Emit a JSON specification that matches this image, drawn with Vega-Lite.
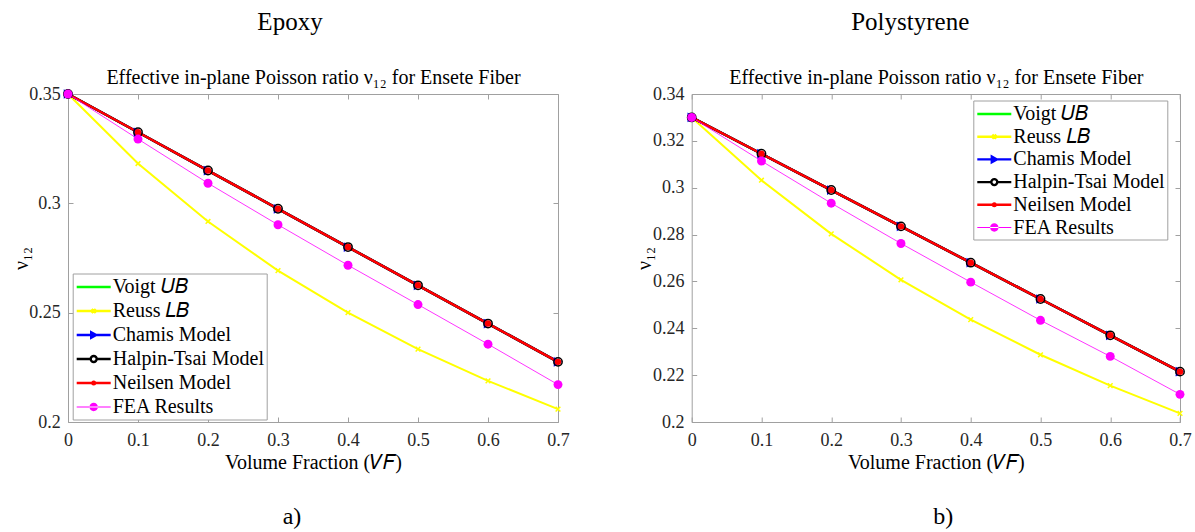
{
  "$schema": "https://vega.github.io/schema/vega-lite/v6.json",
  "background": "white",
  "padding": {"left": 10, "top": 9, "right": 0, "bottom": 0},
  "autosize": {"type": "pad"},
  "bounds": "flush",
  "spacing": 133.7,
  "datasets": {
    "epoxy": [
      {"model": "Voigt 𝑈𝐵", "vf": 0, "nu": 0.35}, {"model": "Voigt 𝑈𝐵", "vf": 0.1, "nu": 0.3325}, {"model": "Voigt 𝑈𝐵", "vf": 0.2, "nu": 0.315}, {"model": "Voigt 𝑈𝐵", "vf": 0.3, "nu": 0.2975}, {"model": "Voigt 𝑈𝐵", "vf": 0.4, "nu": 0.28}, {"model": "Voigt 𝑈𝐵", "vf": 0.5, "nu": 0.2625}, {"model": "Voigt 𝑈𝐵", "vf": 0.6, "nu": 0.245}, {"model": "Voigt 𝑈𝐵", "vf": 0.7, "nu": 0.2275},
      {"model": "Reuss 𝐿𝐵", "vf": 0, "nu": 0.35}, {"model": "Reuss 𝐿𝐵", "vf": 0.1, "nu": 0.3182}, {"model": "Reuss 𝐿𝐵", "vf": 0.2, "nu": 0.2917}, {"model": "Reuss 𝐿𝐵", "vf": 0.3, "nu": 0.2692}, {"model": "Reuss 𝐿𝐵", "vf": 0.4, "nu": 0.25}, {"model": "Reuss 𝐿𝐵", "vf": 0.5, "nu": 0.2333}, {"model": "Reuss 𝐿𝐵", "vf": 0.6, "nu": 0.2188}, {"model": "Reuss 𝐿𝐵", "vf": 0.7, "nu": 0.2059},
      {"model": "Chamis Model", "vf": 0, "nu": 0.35}, {"model": "Chamis Model", "vf": 0.1, "nu": 0.3325}, {"model": "Chamis Model", "vf": 0.2, "nu": 0.315}, {"model": "Chamis Model", "vf": 0.3, "nu": 0.2975}, {"model": "Chamis Model", "vf": 0.4, "nu": 0.28}, {"model": "Chamis Model", "vf": 0.5, "nu": 0.2625}, {"model": "Chamis Model", "vf": 0.6, "nu": 0.245}, {"model": "Chamis Model", "vf": 0.7, "nu": 0.2275},
      {"model": "Halpin-Tsai Model", "vf": 0, "nu": 0.35}, {"model": "Halpin-Tsai Model", "vf": 0.1, "nu": 0.3325}, {"model": "Halpin-Tsai Model", "vf": 0.2, "nu": 0.315}, {"model": "Halpin-Tsai Model", "vf": 0.3, "nu": 0.2975}, {"model": "Halpin-Tsai Model", "vf": 0.4, "nu": 0.28}, {"model": "Halpin-Tsai Model", "vf": 0.5, "nu": 0.2625}, {"model": "Halpin-Tsai Model", "vf": 0.6, "nu": 0.245}, {"model": "Halpin-Tsai Model", "vf": 0.7, "nu": 0.2275},
      {"model": "Neilsen Model", "vf": 0, "nu": 0.35}, {"model": "Neilsen Model", "vf": 0.1, "nu": 0.3325}, {"model": "Neilsen Model", "vf": 0.2, "nu": 0.315}, {"model": "Neilsen Model", "vf": 0.3, "nu": 0.2975}, {"model": "Neilsen Model", "vf": 0.4, "nu": 0.28}, {"model": "Neilsen Model", "vf": 0.5, "nu": 0.2625}, {"model": "Neilsen Model", "vf": 0.6, "nu": 0.245}, {"model": "Neilsen Model", "vf": 0.7, "nu": 0.2275},
      {"model": "FEA Results", "vf": 0, "nu": 0.35}, {"model": "FEA Results", "vf": 0.1, "nu": 0.3294}, {"model": "FEA Results", "vf": 0.2, "nu": 0.3092}, {"model": "FEA Results", "vf": 0.3, "nu": 0.2902}, {"model": "FEA Results", "vf": 0.4, "nu": 0.2717}, {"model": "FEA Results", "vf": 0.5, "nu": 0.2537}, {"model": "FEA Results", "vf": 0.6, "nu": 0.2356}, {"model": "FEA Results", "vf": 0.7, "nu": 0.2171}
    ],
    "poly": [
      {"model": "Voigt 𝑈𝐵", "vf": 0, "nu": 0.33}, {"model": "Voigt 𝑈𝐵", "vf": 0.1, "nu": 0.3145}, {"model": "Voigt 𝑈𝐵", "vf": 0.2, "nu": 0.299}, {"model": "Voigt 𝑈𝐵", "vf": 0.3, "nu": 0.2835}, {"model": "Voigt 𝑈𝐵", "vf": 0.4, "nu": 0.268}, {"model": "Voigt 𝑈𝐵", "vf": 0.5, "nu": 0.2525}, {"model": "Voigt 𝑈𝐵", "vf": 0.6, "nu": 0.237}, {"model": "Voigt 𝑈𝐵", "vf": 0.7, "nu": 0.2215},
      {"model": "Reuss 𝐿𝐵", "vf": 0, "nu": 0.33}, {"model": "Reuss 𝐿𝐵", "vf": 0.1, "nu": 0.3032}, {"model": "Reuss 𝐿𝐵", "vf": 0.2, "nu": 0.2803}, {"model": "Reuss 𝐿𝐵", "vf": 0.3, "nu": 0.2607}, {"model": "Reuss 𝐿𝐵", "vf": 0.4, "nu": 0.2437}, {"model": "Reuss 𝐿𝐵", "vf": 0.5, "nu": 0.2287}, {"model": "Reuss 𝐿𝐵", "vf": 0.6, "nu": 0.2155}, {"model": "Reuss 𝐿𝐵", "vf": 0.7, "nu": 0.2037},
      {"model": "Chamis Model", "vf": 0, "nu": 0.33}, {"model": "Chamis Model", "vf": 0.1, "nu": 0.3145}, {"model": "Chamis Model", "vf": 0.2, "nu": 0.299}, {"model": "Chamis Model", "vf": 0.3, "nu": 0.2835}, {"model": "Chamis Model", "vf": 0.4, "nu": 0.268}, {"model": "Chamis Model", "vf": 0.5, "nu": 0.2525}, {"model": "Chamis Model", "vf": 0.6, "nu": 0.237}, {"model": "Chamis Model", "vf": 0.7, "nu": 0.2215},
      {"model": "Halpin-Tsai Model", "vf": 0, "nu": 0.33}, {"model": "Halpin-Tsai Model", "vf": 0.1, "nu": 0.3145}, {"model": "Halpin-Tsai Model", "vf": 0.2, "nu": 0.299}, {"model": "Halpin-Tsai Model", "vf": 0.3, "nu": 0.2835}, {"model": "Halpin-Tsai Model", "vf": 0.4, "nu": 0.268}, {"model": "Halpin-Tsai Model", "vf": 0.5, "nu": 0.2525}, {"model": "Halpin-Tsai Model", "vf": 0.6, "nu": 0.237}, {"model": "Halpin-Tsai Model", "vf": 0.7, "nu": 0.2215},
      {"model": "Neilsen Model", "vf": 0, "nu": 0.33}, {"model": "Neilsen Model", "vf": 0.1, "nu": 0.3145}, {"model": "Neilsen Model", "vf": 0.2, "nu": 0.299}, {"model": "Neilsen Model", "vf": 0.3, "nu": 0.2835}, {"model": "Neilsen Model", "vf": 0.4, "nu": 0.268}, {"model": "Neilsen Model", "vf": 0.5, "nu": 0.2525}, {"model": "Neilsen Model", "vf": 0.6, "nu": 0.237}, {"model": "Neilsen Model", "vf": 0.7, "nu": 0.2215},
      {"model": "FEA Results", "vf": 0, "nu": 0.33}, {"model": "FEA Results", "vf": 0.1, "nu": 0.3114}, {"model": "FEA Results", "vf": 0.2, "nu": 0.2934}, {"model": "FEA Results", "vf": 0.3, "nu": 0.2762}, {"model": "FEA Results", "vf": 0.4, "nu": 0.2597}, {"model": "FEA Results", "vf": 0.5, "nu": 0.2434}, {"model": "FEA Results", "vf": 0.6, "nu": 0.228}, {"model": "FEA Results", "vf": 0.7, "nu": 0.2118}
    ]
  },
  "resolve": {"scale": {"color": "independent", "x": "independent", "y": "independent"}, "legend": {"color": "independent"}},
  "hconcat": [
    {
      "width": 490, "height": 328,
      "data": {"name": "epoxy"},
      "resolve": {"axis": {"x": "independent", "y": "independent"}},
      "layer": [
        {
          "transform": [{"filter": {"field": "model", "oneOf": ["Reuss 𝐿𝐵"]}}],
          "mark": {"type": "line", "strokeWidth": 2},
          "encoding": {
            "x": {"field": "vf", "type": "quantitative", "scale": {"domain": [0, 0.7], "nice": false, "zero": false},
                  "axis": {"orient": "bottom", "values": [0, 0.1, 0.2, 0.3, 0.4, 0.5, 0.6, 0.7], "format": "~g", "labelFontSize": 18, "labelBaseline": "alphabetic", "labelPadding": 28.5, "title": "Volume Fraction (𝑉𝐹)", "titleFontSize": 20, "titleY": 46.8, "titleBaseline": "alphabetic"}},
            "y": {"field": "nu", "type": "quantitative", "scale": {"domain": [0.2, 0.35], "nice": false, "zero": false},
                  "axis": {"orient": "left", "values": [0.2, 0.25, 0.3, 0.35], "format": "~g", "labelFontSize": 18, "labelPadding": 12.7, "title": "ν₁₂", "titleFontSize": 20, "titleX": -47, "titleBaseline": "middle"}},
            "color": {"field": "model", "type": "nominal",
                      "scale": {"domain": ["Voigt 𝑈𝐵", "Reuss 𝐿𝐵", "Chamis Model", "Halpin-Tsai Model", "Neilsen Model", "FEA Results"], "range": ["#00ff00", "#ffff00", "#0000ff", "#000000", "#ff0000", "#ff00ff"]},
                      "legend": {"orient": "none", "legendX": 4.7, "legendY": 179.5, "rowPadding": 2,
                        "encode": {"symbols": {"update": {
                          "shape": {"signal": "['M-0.95,0L2.45,0', 'M-0.95,0L2.45,0M0.55,-0.2L0.95,0.2M0.55,0.2L0.95,-0.2', 'M-0.95,0L2.45,0M0.5,-0.28L1.0,0L0.5,0.28Z', 'M-0.95,0L0.45,0M1.05,0L2.45,0M0.45,0A0.3,0.3,0,1,0,1.05,0A0.3,0.3,0,1,0,0.45,0', 'M-0.95,0L2.45,0M0.62,0A0.13,0.13,0,1,0,0.88,0A0.13,0.13,0,1,0,0.62,0', 'M-0.95,-0.04L2.45,-0.04L2.45,0.04L-0.95,0.04ZM0.33,0A0.42,0.42,0,1,0,1.17,0A0.42,0.42,0,1,0,0.33,0'][datum.index]"},
                          "fill": {"signal": "['transparent', 'transparent', '#0000ff', 'white', '#ff0000', '#ff00ff'][datum.index]"},
                          "stroke": {"signal": "['#00ff00', '#ffff00', '#0000ff', '#000000', '#ff0000', 'transparent'][datum.index]"},
                          "strokeOpacity": {"signal": "[1, 1, 1, 1, 1, 0][datum.index]"},
                          "fillOpacity": {"value": 1},
                          "strokeWidth": {"value": 2.4},
                          "size": {"value": 400},
                          "opacity": {"value": 1}
                        }}}}}
          }
        },
        {
          "transform": [{"filter": {"field": "model", "oneOf": ["Voigt 𝑈𝐵", "Chamis Model", "Halpin-Tsai Model", "Neilsen Model"]}}],
          "mark": {"type": "line", "strokeWidth": 2.5},
          "encoding": {
            "x": {"field": "vf", "type": "quantitative", "axis": {"orient": "top", "values": [0, 0.1, 0.2, 0.3, 0.4, 0.5, 0.6, 0.7], "labels": false, "title": "Effective in-plane Poisson ratio ν₁₂ for Ensete Fiber", "titleFontSize": 20, "titleY": -10.2, "titleBaseline": "alphabetic"}},
            "y": {"field": "nu", "type": "quantitative", "axis": {"orient": "right", "values": [0.2, 0.25, 0.3, 0.35], "labels": false, "title": null}},
            "color": {"field": "model", "type": "nominal"}
          }
        },
        {
          "transform": [{"filter": {"field": "model", "oneOf": ["FEA Results"]}}],
          "mark": {"type": "line", "strokeWidth": 0.8},
          "encoding": {
            "x": {"field": "vf", "type": "quantitative", "axis": {"orient": "top", "ticks": false, "labels": false, "title": "Epoxy", "titleFontSize": 25, "titleX": 221.5, "titleY": -64.2, "titleBaseline": "alphabetic"}},
            "y": {"field": "nu", "type": "quantitative", "axis": null},
            "color": {"field": "model", "type": "nominal"}
          }
        },
        {
          "transform": [{"filter": {"field": "model", "oneOf": ["Chamis Model"]}}],
          "mark": {"type": "point", "shape": "triangle-right", "filled": true, "color": "#0000ff", "size": 95, "opacity": 1},
          "encoding": {
            "x": {"field": "vf", "type": "quantitative", "axis": {"orient": "bottom", "ticks": false, "labels": false, "title": "a)", "titleFontSize": 24, "titleX": 223.5, "titleY": 101.5, "titleBaseline": "alphabetic"}},
            "y": {"field": "nu", "type": "quantitative", "axis": null}
          }
        },
        {
          "transform": [{"filter": {"field": "model", "oneOf": ["Halpin-Tsai Model"]}}],
          "mark": {"type": "point", "shape": "circle", "filled": false, "color": "#000000", "strokeWidth": 1.5, "size": 70, "opacity": 1},
          "encoding": {"x": {"field": "vf", "type": "quantitative", "axis": null}, "y": {"field": "nu", "type": "quantitative", "axis": null}}
        },
        {
          "transform": [{"filter": {"field": "model", "oneOf": ["Neilsen Model"]}}],
          "mark": {"type": "point", "shape": "circle", "filled": true, "color": "#ff0000", "size": 42, "opacity": 1},
          "encoding": {"x": {"field": "vf", "type": "quantitative", "axis": null}, "y": {"field": "nu", "type": "quantitative", "axis": null}}
        },
        {
          "transform": [{"filter": {"field": "model", "oneOf": ["Reuss 𝐿𝐵"]}}],
          "mark": {"type": "point", "shape": "M-1,-1L1,1M-1,1L1,-1", "filled": false, "color": "#ffff00", "strokeWidth": 1.5, "size": 22, "opacity": 1},
          "encoding": {"x": {"field": "vf", "type": "quantitative", "axis": null}, "y": {"field": "nu", "type": "quantitative", "axis": null}}
        },
        {
          "transform": [{"filter": {"field": "model", "oneOf": ["FEA Results"]}}],
          "mark": {"type": "point", "shape": "circle", "filled": true, "color": "#ff00ff", "size": 80, "opacity": 1},
          "encoding": {"x": {"field": "vf", "type": "quantitative", "axis": null}, "y": {"field": "nu", "type": "quantitative", "axis": null}}
        }
      ]
    },
    {
      "width": 488.3, "height": 328,
      "data": {"name": "poly"},
      "resolve": {"axis": {"x": "independent", "y": "independent"}},
      "layer": [
        {
          "transform": [{"filter": {"field": "model", "oneOf": ["Reuss 𝐿𝐵"]}}],
          "mark": {"type": "line", "strokeWidth": 2},
          "encoding": {
            "x": {"field": "vf", "type": "quantitative", "scale": {"domain": [0, 0.7], "nice": false, "zero": false},
                  "axis": {"orient": "bottom", "values": [0, 0.1, 0.2, 0.3, 0.4, 0.5, 0.6, 0.7], "format": "~g", "labelFontSize": 18, "labelBaseline": "alphabetic", "labelPadding": 28.5, "title": "Volume Fraction (𝑉𝐹)", "titleFontSize": 20, "titleY": 46.8, "titleBaseline": "alphabetic"}},
            "y": {"field": "nu", "type": "quantitative", "scale": {"domain": [0.2, 0.34], "nice": false, "zero": false},
                  "axis": {"orient": "left", "values": [0.2, 0.22, 0.24, 0.26, 0.28, 0.3, 0.32, 0.34], "format": "~g", "labelFontSize": 18, "labelPadding": 12.7, "title": "ν₁₂", "titleFontSize": 20, "titleX": -47, "titleBaseline": "middle"}},
            "color": {"field": "model", "type": "nominal",
                      "scale": {"domain": ["Voigt 𝑈𝐵", "Reuss 𝐿𝐵", "Chamis Model", "Halpin-Tsai Model", "Neilsen Model", "FEA Results"], "range": ["#00ff00", "#ffff00", "#0000ff", "#000000", "#ff0000", "#ff00ff"]},
                      "legend": {"orient": "none", "legendX": 281.6, "legendY": 6.5, "rowPadding": 0.7,
                        "encode": {"symbols": {"update": {
                          "shape": {"signal": "['M-0.95,0L2.45,0', 'M-0.95,0L2.45,0M0.55,-0.2L0.95,0.2M0.55,0.2L0.95,-0.2', 'M-0.95,0L2.45,0M0.5,-0.28L1.0,0L0.5,0.28Z', 'M-0.95,0L0.45,0M1.05,0L2.45,0M0.45,0A0.3,0.3,0,1,0,1.05,0A0.3,0.3,0,1,0,0.45,0', 'M-0.95,0L2.45,0M0.62,0A0.13,0.13,0,1,0,0.88,0A0.13,0.13,0,1,0,0.62,0', 'M-0.95,-0.04L2.45,-0.04L2.45,0.04L-0.95,0.04ZM0.33,0A0.42,0.42,0,1,0,1.17,0A0.42,0.42,0,1,0,0.33,0'][datum.index]"},
                          "fill": {"signal": "['transparent', 'transparent', '#0000ff', 'white', '#ff0000', '#ff00ff'][datum.index]"},
                          "stroke": {"signal": "['#00ff00', '#ffff00', '#0000ff', '#000000', '#ff0000', 'transparent'][datum.index]"},
                          "strokeOpacity": {"signal": "[1, 1, 1, 1, 1, 0][datum.index]"},
                          "fillOpacity": {"value": 1},
                          "strokeWidth": {"value": 2.4},
                          "size": {"value": 400},
                          "opacity": {"value": 1}
                        }}}}}
          }
        },
        {
          "transform": [{"filter": {"field": "model", "oneOf": ["Voigt 𝑈𝐵", "Chamis Model", "Halpin-Tsai Model", "Neilsen Model"]}}],
          "mark": {"type": "line", "strokeWidth": 2.5},
          "encoding": {
            "x": {"field": "vf", "type": "quantitative", "axis": {"orient": "top", "values": [0, 0.1, 0.2, 0.3, 0.4, 0.5, 0.6, 0.7], "labels": false, "title": "Effective in-plane Poisson ratio ν₁₂ for Ensete Fiber", "titleFontSize": 20, "titleY": -10.2, "titleBaseline": "alphabetic"}},
            "y": {"field": "nu", "type": "quantitative", "axis": {"orient": "right", "values": [0.2, 0.22, 0.24, 0.26, 0.28, 0.3, 0.32, 0.34], "labels": false, "title": null}},
            "color": {"field": "model", "type": "nominal"}
          }
        },
        {
          "transform": [{"filter": {"field": "model", "oneOf": ["FEA Results"]}}],
          "mark": {"type": "line", "strokeWidth": 0.8},
          "encoding": {
            "x": {"field": "vf", "type": "quantitative", "axis": {"orient": "top", "ticks": false, "labels": false, "title": "Polystyrene", "titleFontSize": 25, "titleX": 218, "titleY": -64.2, "titleBaseline": "alphabetic"}},
            "y": {"field": "nu", "type": "quantitative", "axis": null},
            "color": {"field": "model", "type": "nominal"}
          }
        },
        {
          "transform": [{"filter": {"field": "model", "oneOf": ["Chamis Model"]}}],
          "mark": {"type": "point", "shape": "triangle-right", "filled": true, "color": "#0000ff", "size": 95, "opacity": 1},
          "encoding": {
            "x": {"field": "vf", "type": "quantitative", "axis": {"orient": "bottom", "ticks": false, "labels": false, "title": "b)", "titleFontSize": 24, "titleX": 251, "titleY": 101.5, "titleBaseline": "alphabetic"}},
            "y": {"field": "nu", "type": "quantitative", "axis": null}
          }
        },
        {
          "transform": [{"filter": {"field": "model", "oneOf": ["Halpin-Tsai Model"]}}],
          "mark": {"type": "point", "shape": "circle", "filled": false, "color": "#000000", "strokeWidth": 1.5, "size": 70, "opacity": 1},
          "encoding": {"x": {"field": "vf", "type": "quantitative", "axis": null}, "y": {"field": "nu", "type": "quantitative", "axis": null}}
        },
        {
          "transform": [{"filter": {"field": "model", "oneOf": ["Neilsen Model"]}}],
          "mark": {"type": "point", "shape": "circle", "filled": true, "color": "#ff0000", "size": 42, "opacity": 1},
          "encoding": {"x": {"field": "vf", "type": "quantitative", "axis": null}, "y": {"field": "nu", "type": "quantitative", "axis": null}}
        },
        {
          "transform": [{"filter": {"field": "model", "oneOf": ["Reuss 𝐿𝐵"]}}],
          "mark": {"type": "point", "shape": "M-1,-1L1,1M-1,1L1,-1", "filled": false, "color": "#ffff00", "strokeWidth": 1.5, "size": 22, "opacity": 1},
          "encoding": {"x": {"field": "vf", "type": "quantitative", "axis": null}, "y": {"field": "nu", "type": "quantitative", "axis": null}}
        },
        {
          "transform": [{"filter": {"field": "model", "oneOf": ["FEA Results"]}}],
          "mark": {"type": "point", "shape": "circle", "filled": true, "color": "#ff00ff", "size": 80, "opacity": 1},
          "encoding": {"x": {"field": "vf", "type": "quantitative", "axis": null}, "y": {"field": "nu", "type": "quantitative", "axis": null}}
        }
      ]
    }
  ],
  "config": {
    "font": "Liberation Serif",
    "view": {"stroke": "#a0a0a0", "strokeWidth": 1},
    "axis": {"grid": false, "domain": false, "labelFont": "Liberation Serif", "titleFont": "Liberation Serif", "labelColor": "#262626", "titleColor": "#000000", "titleFontWeight": "normal", "tickColor": "#a0a0a0", "tickSize": -5, "tickWidth": 1, "labelFlush": false, "labelOverlap": false, "labelBound": false},
    "legend": {
      "title": null, "labelFont": "Liberation Serif", "labelFontSize": 20, "labelColor": "#000000", "labelLimit": 400,
      "fillColor": "white", "strokeColor": "#a0a0a0", "padding": 2, "symbolSize": 400, "symbolStrokeWidth": 2.4, "labelOffset": 15,
      "symbolType": "circle"
    },
    "line": {"strokeCap": "butt"}
  }
}
